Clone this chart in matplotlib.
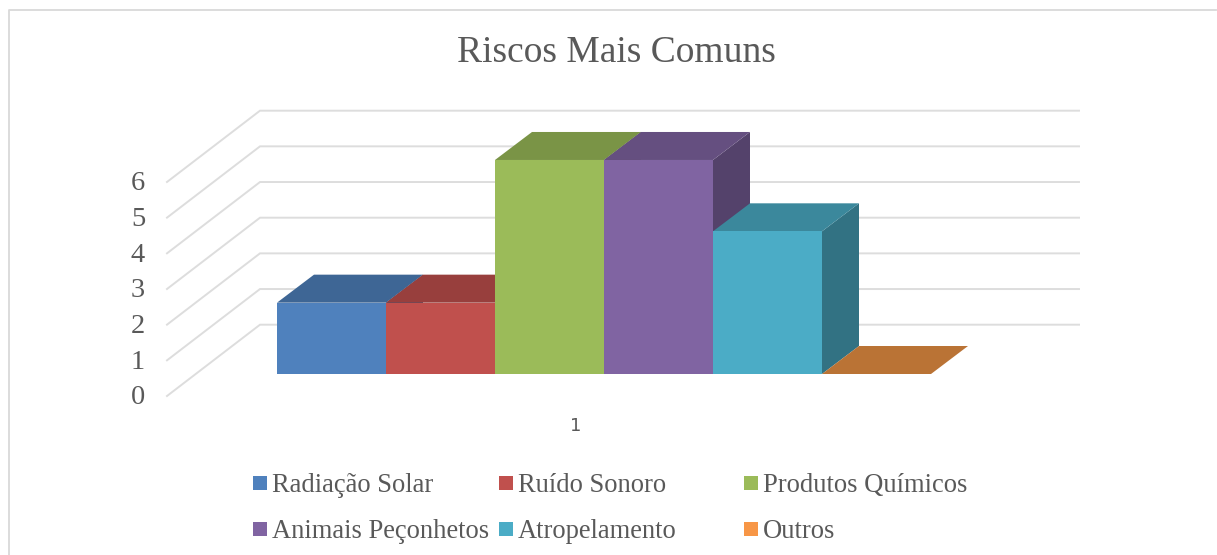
import matplotlib
matplotlib.use('Agg')
import matplotlib.pyplot as plt
from matplotlib.patches import Polygon, Rectangle

plt.rcParams['font.family'] = ['Liberation Serif', 'DejaVu Serif']

title = 'Riscos Mais Comuns'
series = ['Radiação Solar', 'Ruído Sonoro', 'Produtos Químicos',
          'Animais Peçonhetos', 'Atropelamento', 'Outros']
values = [2, 2, 6, 6, 4, 0]
colors = ['#4F81BD', '#C0504D', '#9BBB59', '#8064A2', '#4BACC6', '#F79646']
y_ticks = [0, 1, 2, 3, 4, 5, 6]
category = '1'

# layout in pixels of the 1217x555 picture
unit = 35.67
bar_w = 109.0
bar_x0 = 277
bar_y0 = 374
bar_dx, bar_dy = 37, -28
wall_left, wall_right = 260, 1079
wall_y0 = 324.7
front_x = 167
front_y0 = 396


def darker(c, f):
    r, g, b = matplotlib.colors.to_rgb(c)
    return (r * f, g * f, b * f)


fig = plt.figure(figsize=(12.17, 5.55), dpi=100)
ax = fig.add_axes([0, 0, 1, 1])
ax.set_xlim(0, 1217)
ax.set_ylim(555, 0)
ax.axis('off')

# outer chart frame
ax.plot([8.5, 8.5, 1216], [555, 9.5, 9.5], color='#D9D9D9', lw=1.3)
ax.plot([1216.5, 1216.5], [9.5, 555], color='#EFEFEF', lw=0.7)

# gridlines, side wall and back wall
for t in y_ticks:
    yb = wall_y0 - t * unit
    yf = front_y0 - t * unit
    ax.plot([front_x, wall_left, wall_right], [yf, yb, yb], color='#DDDDDD', lw=1.4,
            solid_joinstyle='miter', zorder=1)
    ax.text(138, yf + 2, str(t), fontsize=20.5, color='#595959', ha='center', va='center')

# bars, left to right so that each one covers the previous side face
for i, v in enumerate(values):
    x = bar_x0 + i * bar_w
    top = bar_y0 - v * unit
    c = colors[i]
    if v > 0:
        ax.add_patch(Polygon([(x + bar_w, top), (x + bar_w + bar_dx, top + bar_dy),
                              (x + bar_w + bar_dx, bar_y0 + bar_dy), (x + bar_w, bar_y0)],
                             facecolor=darker(c, 0.66), edgecolor='none', zorder=2))
    top_c = '#BA7335' if v == 0 else darker(c, 0.79)
    ax.add_patch(Polygon([(x, top), (x + bar_dx, top + bar_dy),
                          (x + bar_w + bar_dx, top + bar_dy), (x + bar_w, top)],
                         facecolor=top_c, edgecolor='none', zorder=2))
    if v > 0:
        ax.add_patch(Rectangle((x, top), bar_w, v * unit, facecolor=c, edgecolor='none', zorder=2))

ax.text(616.5, 53, title, fontsize=27, color='#595959', ha='center', va='center')
ax.text(576, 426, category, fontsize=13, color='#595959', ha='center', va='center',
        family='DejaVu Sans')

# legend
leg_x = [253, 499, 744]
leg_y = [483, 529]
for i, name in enumerate(series):
    lx = leg_x[i % 3]
    ly = leg_y[i // 3]
    ax.add_patch(Rectangle((lx, ly - 7), 14, 14, facecolor=colors[i], edgecolor='none'))
    ax.text(lx + 19, ly + 2, name, fontsize=19.1, color='#595959', ha='left', va='center')

fig.savefig('out.png', dpi=100)
